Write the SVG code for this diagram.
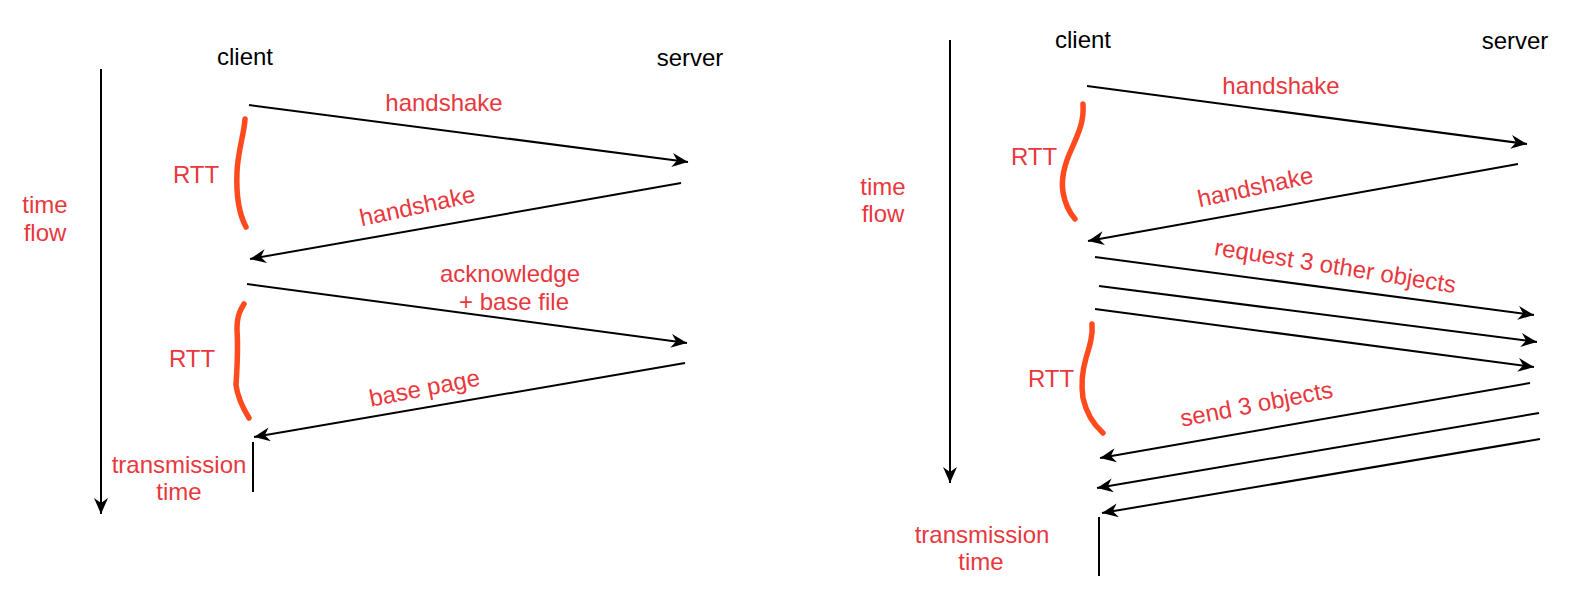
<svg xmlns="http://www.w3.org/2000/svg" width="1582" height="592" viewBox="0 0 1582 592">
<style>
text{font-family:"Liberation Sans",Arial,Helvetica,sans-serif;font-size:24px;text-anchor:middle}
.k{fill:#000}
.r{fill:#E8383E}
.ln{stroke:#000;stroke-width:2;fill:none}
.br{stroke:#FF4A1E;stroke-width:5.5;fill:none;stroke-linecap:round;stroke-linejoin:round}
</style>
<defs>
<marker id="ah" viewBox="0 0 16 14" refX="16" refY="7" markerWidth="16" markerHeight="14" markerUnits="userSpaceOnUse" orient="auto">
<path d="M0,0 L16,7 L0,14 L5,7 z" fill="#000"/>
</marker>
</defs>
<rect width="1582" height="592" fill="#fff"/>

<g id="left-client"><text class="k" x="245" y="65">client</text></g>
<g id="left-server"><text class="k" x="690" y="66">server</text></g>
<g id="left-timeflow"><text class="r" x="45" y="213">time</text><text class="r" x="45" y="241">flow</text></g>
<g id="left-rtt1"><path class="br" d="M245,119 C244,135 238,150 237,172 C236,195 238,212 246,227"/><text class="r" x="196" y="183">RTT</text></g>
<g id="left-rtt2"><path class="br" d="M244,304 C240,310 237,316 237,330 C238,345 237,370 236,385 C238,400 244,410 249,418"/><text class="r" x="192" y="367">RTT</text></g>
<g id="left-trans"><text class="r" x="179" y="473">transmission</text><text class="r" x="179" y="500">time</text></g>

<g id="right-client"><text class="k" x="1083" y="48">client</text></g>
<g id="right-server"><text class="k" x="1515" y="49">server</text></g>
<g id="right-timeflow"><text class="r" x="883" y="195">time</text><text class="r" x="883" y="222">flow</text></g>
<g id="right-rtt1"><path class="br" d="M1083,104 C1084,120 1080,130 1072,148 C1064,165 1061,180 1063,192 C1065,205 1069,212 1075,219"/><text class="r" x="1034" y="165">RTT</text></g>
<g id="right-rtt2"><path class="br" d="M1092,324 C1093,335 1090,345 1086,358 C1082,372 1081,385 1083,398 C1086,412 1093,424 1103,433"/><text class="r" x="1051" y="387">RTT</text></g>
<g id="right-trans"><text class="r" x="982" y="543">transmission</text><text class="r" x="981" y="570">time</text></g>

<g id="connectors">
<line class="ln" x1="101" y1="69" x2="101" y2="514" marker-end="url(#ah)"/>
<line class="ln" x1="249" y1="105" x2="688" y2="162" marker-end="url(#ah)"/>
<line class="ln" x1="681" y1="183" x2="250" y2="259" marker-end="url(#ah)"/>
<line class="ln" x1="247" y1="284" x2="687" y2="343" marker-end="url(#ah)"/>
<line class="ln" x1="685" y1="363" x2="254" y2="437" marker-end="url(#ah)"/>
<line class="ln" x1="253" y1="442" x2="253" y2="492"/>

<line class="ln" x1="950" y1="40" x2="950" y2="483" marker-end="url(#ah)"/>
<line class="ln" x1="1087" y1="86" x2="1527" y2="144" marker-end="url(#ah)"/>
<line class="ln" x1="1518" y1="164" x2="1088" y2="241" marker-end="url(#ah)"/>
<line class="ln" x1="1095" y1="257" x2="1534" y2="315" marker-end="url(#ah)"/>
<line class="ln" x1="1099" y1="286" x2="1537" y2="342" marker-end="url(#ah)"/>
<line class="ln" x1="1095" y1="309" x2="1534" y2="367" marker-end="url(#ah)"/>
<line class="ln" x1="1530" y1="383" x2="1100" y2="458" marker-end="url(#ah)"/>
<line class="ln" x1="1539" y1="413" x2="1097" y2="488" marker-end="url(#ah)"/>
<line class="ln" x1="1540" y1="439" x2="1102" y2="513" marker-end="url(#ah)"/>
<line class="ln" x1="1099" y1="517" x2="1099" y2="576"/>

<text class="r" x="444" y="111">handshake</text>
<text class="r" x="419" y="214" transform="rotate(-12 419 214)">handshake</text>
<text class="r" x="510" y="282">acknowledge</text>
<text class="r" x="514" y="310">+ base file</text>
<text class="r" x="426" y="396" transform="rotate(-11 426 396)">base page</text>

<text class="r" x="1281" y="94">handshake</text>
<text class="r" x="1257" y="195" transform="rotate(-12 1257 195)">handshake</text>
<text class="r" x="1334" y="274" transform="rotate(9 1334 274)">request 3 other objects</text>
<text class="r" x="1258" y="412" transform="rotate(-11 1258 412)">send 3 objects</text>
</g>
</svg>
